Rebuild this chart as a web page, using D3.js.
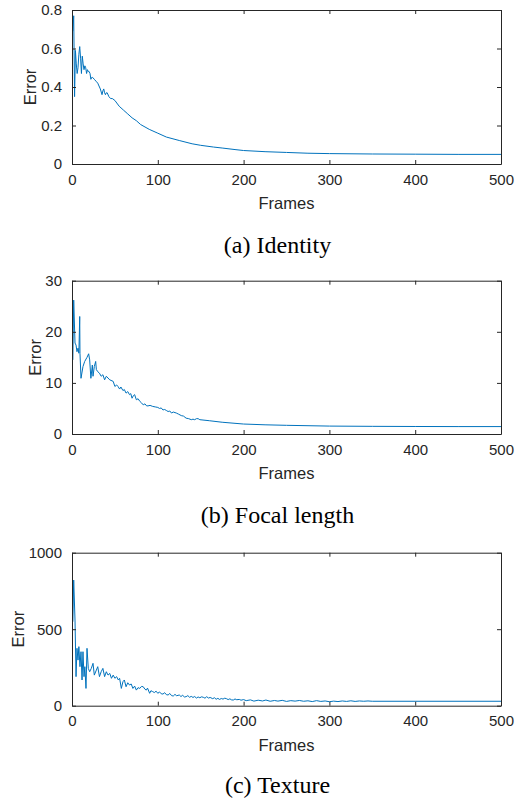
<!DOCTYPE html>
<html>
<head>
<meta charset="utf-8">
<script src="https://cdn.jsdelivr.net/npm/d3@7/dist/d3.min.js"></script>
<style>
body { margin: 0; background: #fff; }
svg { display: block; }
</style>
</head>
<body>
<div id="graph"></div>
<script>
// frames and error values
var identityFrames = [1,2,3,4,5,6,7,8,9,10,11,12,13,14,15,16,17,18,19,20,21,22,23,24,26,28,30,32,33,35,36,37,38,39,40,41,43,45,47,50,55,60,65,70,75,80,90,100,110,125,140,150,165,175,190,200,225,250,275,300,350,400,450,500];
var identityError = [0.69,0.77,0.35,0.59,0.52,0.47,0.50,0.57,0.61,0.55,0.47,0.56,0.52,0.49,0.51,0.50,0.47,0.49,0.48,0.48,0.47,0.44,0.45,0.45,0.44,0.43,0.42,0.40,0.39,0.36,0.38,0.39,0.37,0.36,0.37,0.37,0.35,0.34,0.34,0.33,0.30,0.28,0.26,0.24,0.225,0.205,0.18,0.16,0.14,0.122,0.105,0.097,0.088,0.083,0.075,0.07,0.064,0.06,0.056,0.054,0.052,0.051,0.05,0.05];

var focalFrames = [1,2,3.5,4.7,5.8,7,8,9,9.3,10.5,12.8,14.8,17.5,19.4,20.6,22,23.7,24.5,26,27.6,28.4,30,32,34,36,38,40,44,48,50,52,53.6,55.5,57,59.4,61,63,65,67,68.5,70,71.5,73,75,77,79,81,83,85,87,88.6,91,94,97,100,102,104,106,108,110,112,114,116,118,121.6,124,127.4,130,133,136,139,141,143,145,147,149,160,175,200,225,250,300,350,400,450,500];
var focalError = [14.5,26.2,17.8,17.4,16.1,16.8,15.8,23,15.8,10.9,13.2,14.2,15.0,15.7,14.5,10.9,13.5,11.3,13.2,14.2,12.6,12.2,11.9,11.3,11.6,10.6,11.3,10.6,10.3,9.3,9.6,9.3,8.8,9.2,8.5,8.7,8.0,8.3,7.7,7.9,7.0,7.5,7.7,6.7,6.9,6.4,6.1,5.7,5.9,5.5,5.5,5.6,5.4,5.3,5.2,5.0,5.1,4.7,4.8,4.6,4.4,4.5,4.1,4.3,4.1,3.9,3.6,3.5,3.1,3.0,2.8,2.9,2.8,3.0,3.0,2.8,2.6,2.3,1.95,1.8,1.7,1.55,1.5,1.47,1.45,1.45];

var textureFrames = [1,2,3.5,4.7,5.8,7,8,9.3,10.5,11.7,12.8,14,15,16.3,17.5,19,20.6,22.5,24.5,26,28.4,30,32,34,36,38,40,42,44,46,48,50,52,54,55.5,57.5,59.4,61,63,65,67,69,71,73,75,77,79,81,83,85,86.6,88,90.5,92,94,96,98,100,102,104,106,108,110,112,114,116,118,120,122,125,127,129,131,133,135,137,139,141,143,145,147,149,151,153,155,157,159,161,164,166,168,170,172,174,176,178,180,182,184,186,188,190,192,195,197,200,203,208,212,217,222,226,231,236,240,245,250,255,260,265,270,275,280,285,290,295,300,305,310,315,320,325,330,335,340,345,350,400,500];
var textureError = [549,821,560,190,375,298,386,255,353,168,353,190,255,113,375,244,222,244,277,200,233,255,190,222,244,190,222,200,211,179,200,179,190,168,179,113,157,168,124,150,135,142,113,128,102,118,113,126,124,108,102,115,81,98,92,86,95,81,90,78,76,85,72,70,80,66,63,74,65,70,60,68,57,59,66,55,61,54,60,50,57,52,58,55,49,59,50,54,46,52,42,48,41,47,43,49,46,40,45,38,37,44,39,41,36,40,33,38,30,36,31,37,29,34,30,35,28,33,30,34,29,32,27,33,28,31,26,30,27,31,28,32,28,31,29,31,29,29,29];

var frameTicks = [0,100,200,300,400,500];
var identityTicks = [0,0.2,0.4,0.6,0.8];
var focalTicks = [0,10,20,30];
var textureTicks = [0,500,1000];

var captions = ["(a) Identity", "(b) Focal length", "(c) Texture"];

var W = 518, H = 803;
var left = 72, right = 501;
var ink = "#262626", lineColor = "#0072BD";

var svg = d3.select("#graph")
		.append("svg")
		.attr("width", W)
		.attr("height", H);

function drawPanel(top, bottom, frames, values, yTicks, yMax, fmt, ylabelX, caption, captionY) {
	var x = d3.scaleLinear().domain([0, 500]).range([left, right]);
	var y = d3.scaleLinear().domain([0, yMax]).range([bottom, top]);
	var g = svg.append("g");

	var line = d3.line()
		.x(function(d) { return x(d[0]); })
		.y(function(d) { return y(d[1]); });

	g.append("path")
	 .datum(d3.zip(frames, values))
	 .attr("d", line)
	 .attr("fill", "none")
	 .attr("stroke", lineColor)
	 .attr("stroke-width", 1)
	 .attr("stroke-linejoin", "round");

	// inward ticks on all four sides
	g.append("g").attr("transform", "translate(0," + bottom + ")")
	 .call(d3.axisBottom(x).tickValues(frameTicks).tickSizeInner(-4).tickSizeOuter(0).tickPadding(10));
	g.append("g").attr("transform", "translate(0," + top + ")")
	 .call(d3.axisTop(x).tickValues(frameTicks).tickSizeInner(-4).tickSizeOuter(0).tickFormat(""));
	g.append("g").attr("transform", "translate(" + left + ",0)")
	 .call(d3.axisLeft(y).tickValues(yTicks).tickSizeInner(-4).tickSizeOuter(0).tickPadding(10).tickFormat(fmt));
	g.append("g").attr("transform", "translate(" + right + ",0)")
	 .call(d3.axisRight(y).tickValues(yTicks).tickSizeInner(-4).tickSizeOuter(0).tickFormat(""));

	g.selectAll(".domain").attr("stroke", ink).attr("stroke-width", 1);
	g.selectAll(".tick line").attr("stroke", ink);
	g.selectAll(".tick text")
	 .attr("fill", ink)
	 .style("font-family", "Liberation Sans, Arial, sans-serif")
	 .style("font-size", "15px");

	g.append("text")
	 .attr("x", (left + right) / 2)
	 .attr("y", bottom + 45)
	 .attr("text-anchor", "middle")
	 .attr("fill", ink)
	 .style("font-family", "Liberation Sans, Arial, sans-serif")
	 .style("font-size", "16.5px")
	 .text("Frames");

	g.append("text")
	 .attr("transform", "translate(" + ylabelX + "," + (top + bottom) / 2 + ") rotate(-90)")
	 .attr("text-anchor", "middle")
	 .attr("dy", "0.35em")
	 .attr("fill", ink)
	 .style("font-family", "Liberation Sans, Arial, sans-serif")
	 .style("font-size", "16.5px")
	 .text("Error");

	svg.append("text")
	 .attr("x", 277.5)
	 .attr("y", captionY)
	 .attr("text-anchor", "middle")
	 .attr("fill", "#000")
	 .style("font-family", "Liberation Serif, Times New Roman, serif")
	 .style("font-size", "24px")
	 .text(caption);
}

drawPanel(10, 164, identityFrames, identityError, identityTicks, 0.8, d3.format(".1~f"), 30, captions[0], 253);
drawPanel(280.7, 434, focalFrames, focalError, focalTicks, 30, d3.format("d"), 35, captions[1], 523);
drawPanel(552.7, 705.7, textureFrames, textureError, textureTicks, 1000, d3.format("d"), 18, captions[2], 793);
</script>
</body>
</html>
